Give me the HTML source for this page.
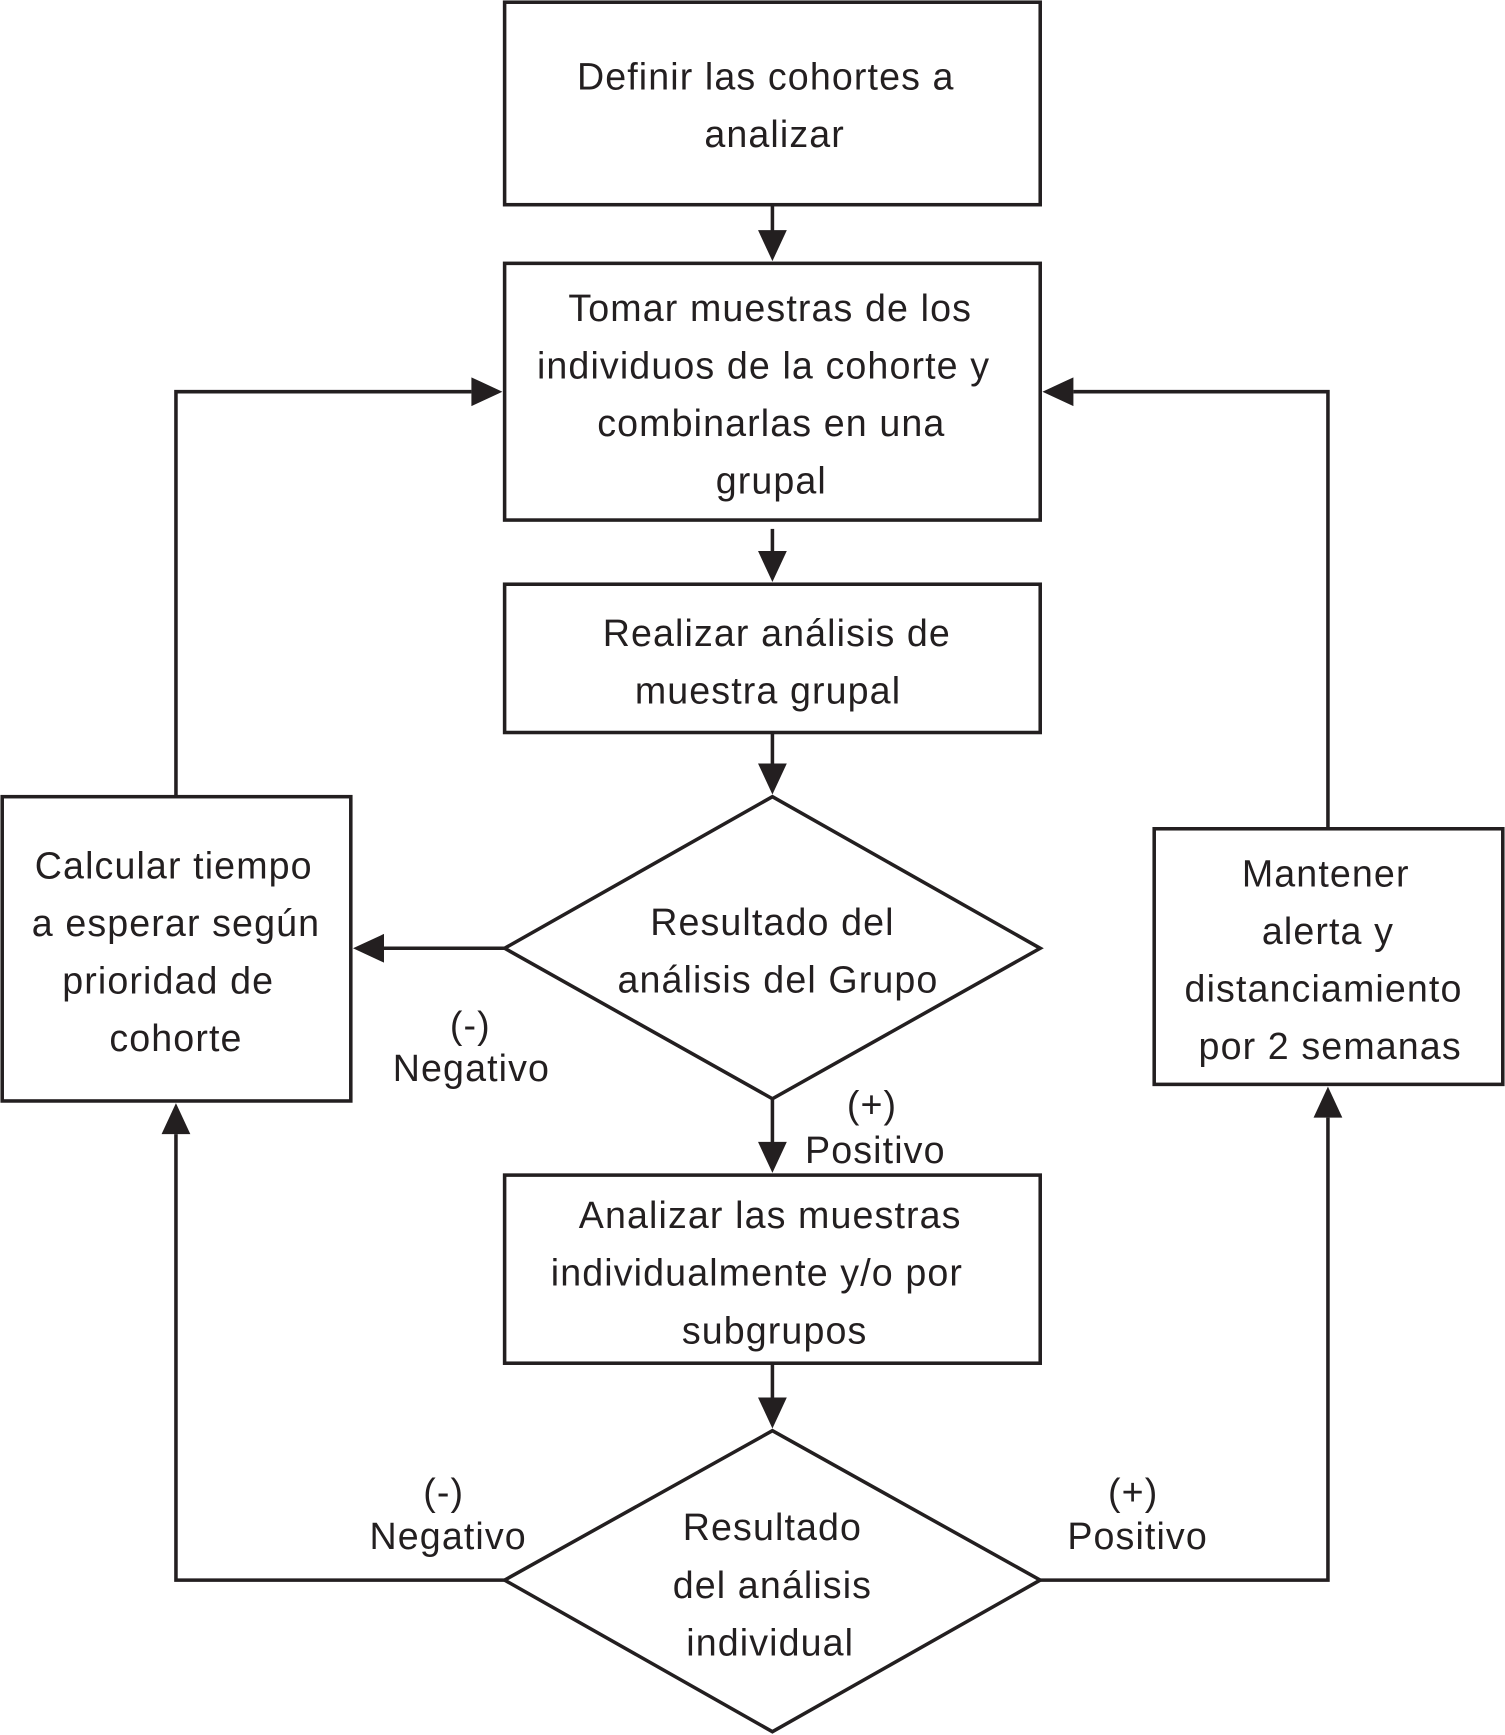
<!DOCTYPE html>
<html><head><meta charset="utf-8"><style>
html,body{margin:0;padding:0;background:#fff;}
svg{display:block;}
text{font-family:"Liberation Sans",sans-serif;font-size:34px;fill:#231f20;text-anchor:middle;letter-spacing:1px;}
</style></head><body>
<svg width="1505" height="1735" viewBox="0 0 1360 1568" preserveAspectRatio="none">
<g fill="none" stroke="#231f20" stroke-width="3.2">
<rect x="456" y="2" width="484" height="183"/>
<rect x="456" y="238" width="484" height="232"/>
<rect x="456" y="528" width="484" height="134"/>
<polygon points="698,720 940,857 698,993 456,857" fill="#fff"/>
<rect x="456" y="1062" width="484" height="170"/>
<polygon points="698,1293 940,1428 698,1565 456,1428" fill="#fff"/>
<rect x="2" y="720" width="315" height="275"/>
<rect x="1043" y="749" width="315" height="231"/>
<path d="M159,720 V354 H426"/>
<path d="M1200,749 V354 H970"/>
<path d="M456,1428 H159 V1025"/>
<path d="M940,1428 H1200 V1010"/>
<path d="M456,857 H347"/>
<path d="M698,185 V210"/>
<path d="M698,478 V500"/>
<path d="M698,662 V692"/>
<path d="M698,993 V1034"/>
<path d="M698,1232 V1265"/>
</g>
<g fill="#231f20">
<path d="M685,208 L711,208 L698,236 z"/>
<path d="M685,498 L711,498 L698,526 z"/>
<path d="M685,690 L711,690 L698,718 z"/>
<path d="M685,1032 L711,1032 L698,1060 z"/>
<path d="M685,1263 L711,1263 L698,1291 z"/>
<path d="M426,341 L426,367 L454,354 z"/>
<path d="M970,341 L970,367 L942,354 z"/>
<path d="M347,844 L347,870 L319,857 z"/>
<path d="M146,1025 L172,1025 L159,997 z"/>
<path d="M1187,1010 L1213,1010 L1200,982 z"/>
</g>
<text x="692" y="81">Definir las cohortes a</text>
<text x="700" y="133">analizar</text>
<text x="696" y="290">Tomar muestras de los</text>
<text x="690" y="342">individuos de la cohorte y</text>
<text x="697" y="394">combinarlas en una</text>
<text x="697" y="446">grupal</text>
<text x="702" y="584">Realizar análisis de</text>
<text x="694" y="636">muestra grupal</text>
<text x="698" y="845">Resultado del</text>
<text x="703" y="897">análisis del Grupo</text>
<text x="696" y="1110">Analizar las muestras</text>
<text x="684" y="1162">individualmente y/o por</text>
<text x="700" y="1214">subgrupos</text>
<text x="698" y="1392">Resultado</text>
<text x="698" y="1444">del  análisis</text>
<text x="696" y="1496">individual</text>
<text x="157" y="794">Calcular tiempo</text>
<text x="159" y="846">a esperar según</text>
<text x="152" y="898">prioridad de</text>
<text x="159" y="950">cohorte</text>
<text x="1198" y="801">Mantener</text>
<text x="1200" y="853">alerta y</text>
<text x="1196" y="905">distanciamiento</text>
<text x="1202" y="957">por 2 semanas</text>
<text x="425" y="938">(-)</text>
<text x="426" y="977">Negativo</text>
<text x="788" y="1010">(+)</text>
<text x="791" y="1051">Positivo</text>
<text x="401" y="1360">(-)</text>
<text x="405" y="1400">Negativo</text>
<text x="1024" y="1360">(+)</text>
<text x="1028" y="1400">Positivo</text>
</svg>
</body></html>
